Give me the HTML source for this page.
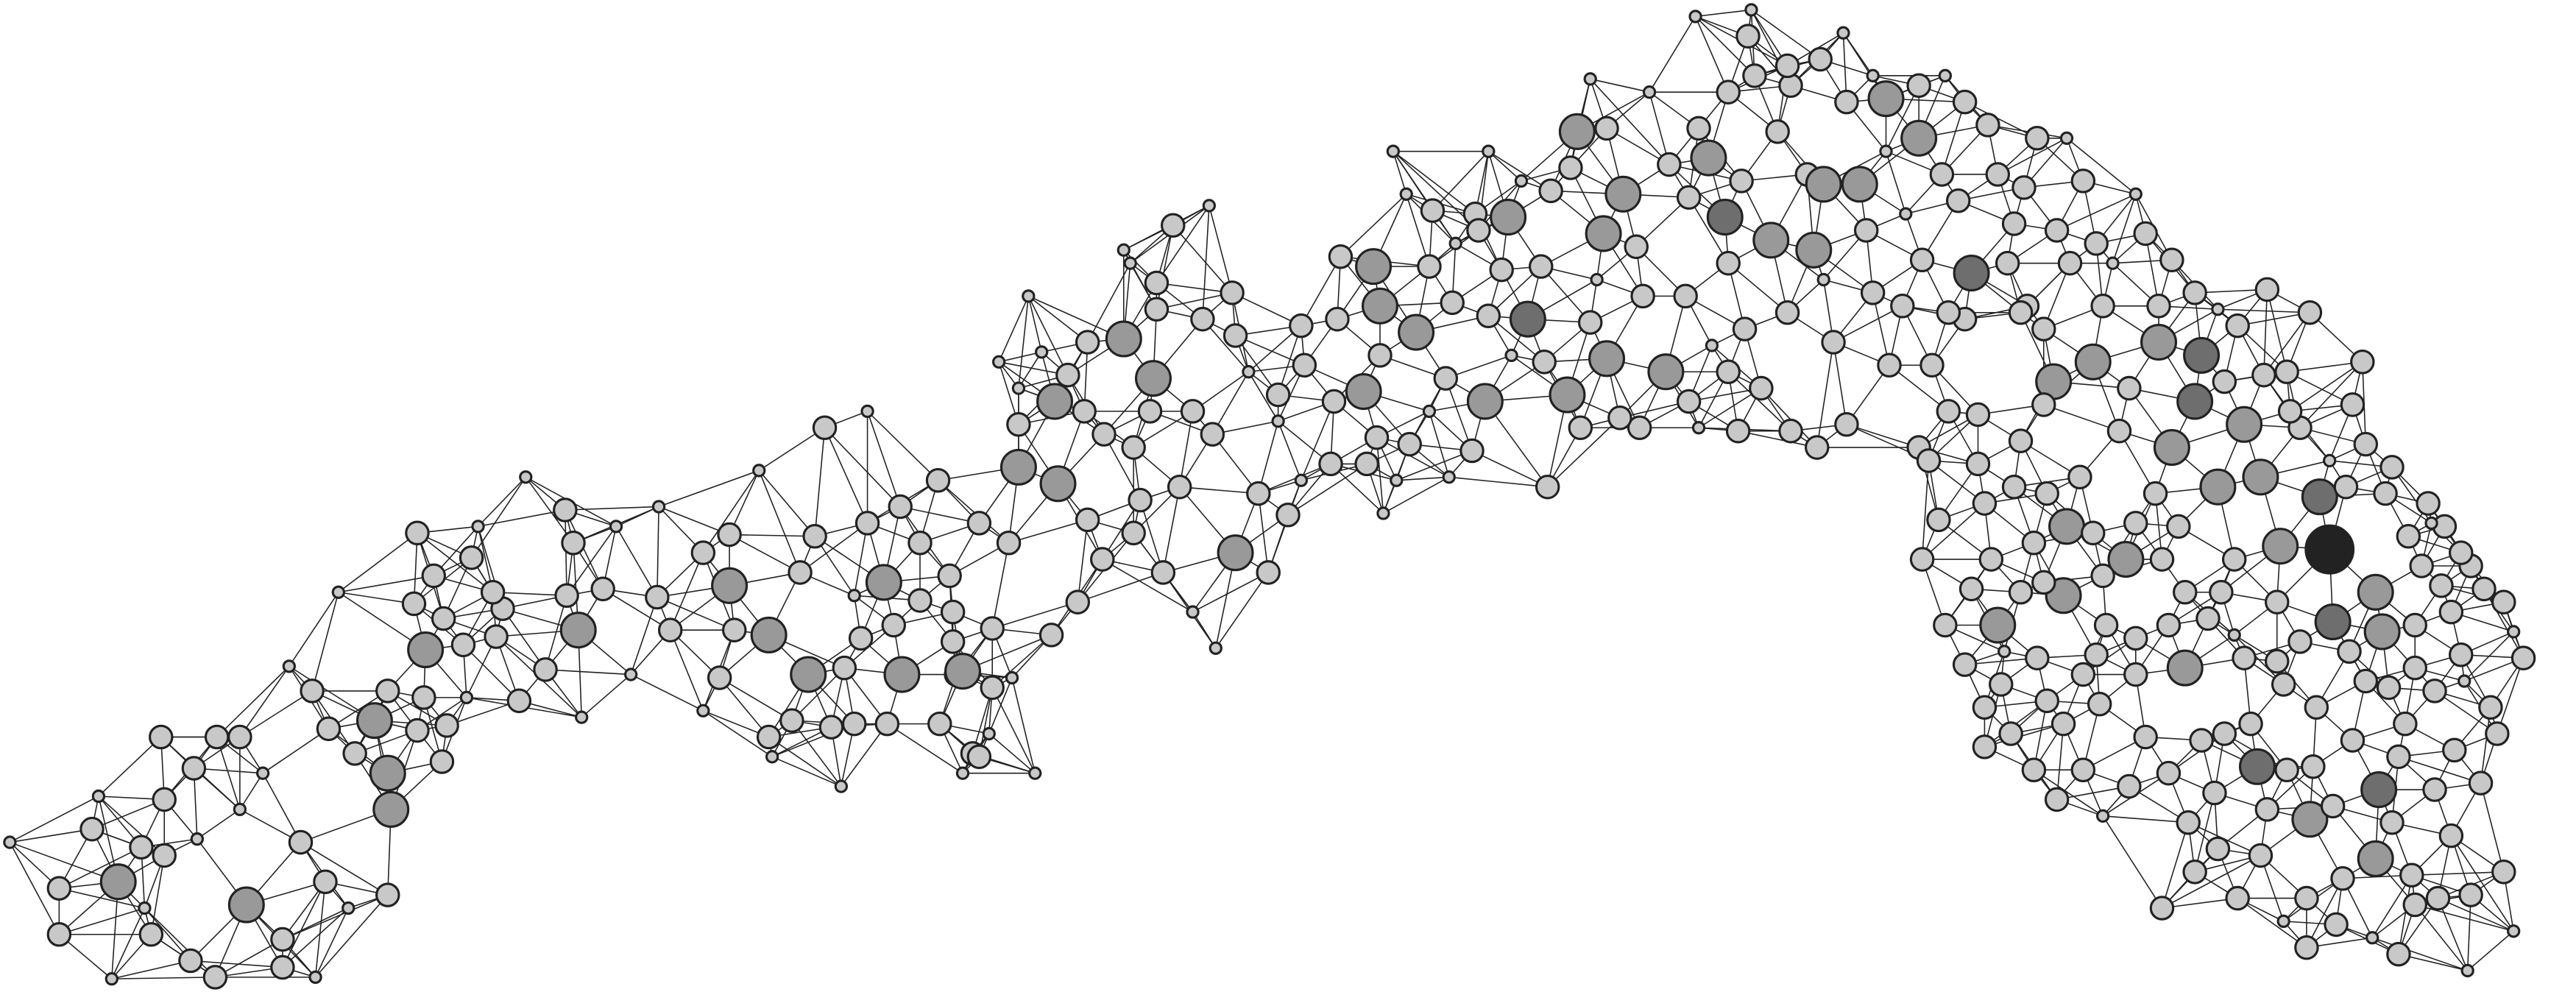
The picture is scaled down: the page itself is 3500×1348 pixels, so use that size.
<!DOCTYPE html>
<html><head><meta charset="utf-8">
<style>
html,body{margin:0;padding:0;background:#fff;}
svg{display:block;}
</style></head>
<body>
<svg id="chart" width="3500" height="1348" viewBox="0 0 1568 603" preserveAspectRatio="none" xmlns="http://www.w3.org/2000/svg">
<rect width="1568" height="603" fill="#fff"/>
<g id="edges"></g>
<g id="nodes"></g>
</svg>
<script>
// node data: [x, y, sizeClass, shadeClass] in reference thumbnail units
const nodes = [
[6,512,0],[36,540,1],[56,504,1],[72,536,2,1],[60,484,0],[36,568,1],[68,595,0],[92,568,1],[88,552,0],[100,520,1],[100,486,1],[98,448,1],[118,467,1],[132,448,1],[146,448,1],[146,492,0],[116,584,1],[131,594,1],[150,550,2,1],[172,571,1],[183,512,1],[198,536,1],[172,588,1],[192,594,0],[212,552,0],[236,544,1],[238,492,2,1],[236,470,2,1],[228,438,2,1],[200,443,1],[216,458,1],[254,444,1],[269,463,1],[272,441,1],[258,424,1],[259,395,2,1],[252,367,1],[270,376,1],[254,324,1],[287,339,1],[291,320,0],[302,387,1],[306,370,1],[316,426,1],[332,407,1],[349,330,1],[344,310,1],[345,362,1],[352,383,2,1],[367,358,1],[375,320,0],[401,308,0],[400,363,1],[408,383,1],[428,336,1],[444,325,1],[444,356,2,1],[468,386,2,1],[447,383,1],[438,412,1],[462,286,0],[487,348,1],[496,326,1],[492,410,2,1],[482,438,1],[468,448,1],[506,442,1],[514,406,1],[524,388,1],[538,354,2,1],[548,308,1],[528,318,1],[549,410,2,1],[540,440,1],[571,292,1],[582,410,1],[586,408,2,1],[580,390,1],[580,372,1],[578,350,1],[596,318,1],[614,330,1],[604,382,1],[572,440,1],[592,458,1],[602,446,0],[616,412,0],[640,386,1],[656,366,1],[620,284,2,1],[620,258,1],[644,294,2,1],[642,244,2,1],[662,208,1],[626,180,0],[684,206,2,1],[702,230,2,1],[714,137,1],[736,125,0],[732,194,1],[750,178,1],[704,188,1],[704,172,1],[672,264,1],[690,272,1],[662,316,1],[694,304,1],[690,324,1],[671,340,1],[708,348,1],[718,296,1],[726,250,1],[738,264,1],[752,336,2,1],[772,348,1],[726,372,0],[740,394,0],[784,313,1],[778,240,1],[794,222,1],[792,198,1],[778,256,0],[792,292,0],[812,244,1],[830,238,2,1],[838,266,1],[814,194,1],[840,186,2,1],[836,162,2,1],[840,216,1],[862,202,2,1],[816,156,1],[848,92,0],[856,118,0],[870,162,1],[884,184,1],[904,244,2,1],[914,164,1],[918,132,2,1],[930,194,2,2],[906,192,1],[938,162,1],[954,240,2,1],[962,260,1],[968,196,1],[978,218,2,1],[960,80,2,1],[978,78,1],[988,118,2,1],[976,142,2,1],[996,150,1],[1000,180,1],[1014,226,2,1],[1026,180,1],[1028,120,1],[1034,78,1],[1040,96,2,1],[1050,132,2,2],[1052,160,1],[1052,226,1],[1058,262,1],[1064,22,1],[1078,146,2,1],[1082,80,1],[1088,190,1],[1100,106,1],[1104,152,2,1],[1110,112,2,1],[1122,20,0],[1124,62,1],[1132,112,2,1],[1136,140,1],[1148,60,2,1],[1168,84,2,1],[1168,52,1],[1182,106,1],[1200,166,2,2],[1210,76,1],[1222,160,1],[1226,136,1],[1234,186,1],[1232,114,1],[1244,200,1],[1250,232,2,1],[1274,220,2,1],[1280,186,1],[1296,236,1],[1300,118,0],[1314,186,1],[1314,208,2,1],[1336,178,1],[1340,216,2,2],[1336,244,2,2],[1366,258,2,1],[1322,272,2,1],[1290,262,1],[1258,320,2,1],[1294,340,2,1],[1350,296,2,1],[1376,290,2,1],[1412,302,2,2],[1418,334,3,3],[1388,332,2,1],[1360,340,1],[1420,378,2,2],[1446,360,2,1],[1450,384,2,1],[1470,406,1],[1504,344,1],[1524,366,1],[1536,400,1],[1516,430,1],[1482,480,1],[1448,480,2,2],[1374,466,2,2],[1380,492,1],[1406,498,2,1],[1446,522,2,1],[1468,532,1],[1484,546,1],[1504,544,1],[1524,530,1],[1426,534,1],[1470,550,1],[1350,516,1],[1332,500,1],[1316,552,1],[1362,546,1],[1404,546,1],[1422,562,1],[1502,590,0],[1330,406,2,1],[1300,410,1],[1282,380,1],[1256,362,2,1],[1216,380,2,1],[1200,358,1],[1184,380,1],[1218,416,1],[1246,426,1],[1256,440,1],[1278,428,1],[1306,448,1],[1340,450,1],[1370,440,1],[1390,416,1],[1410,430,1],[1440,414,1],[1366,400,1],[1386,402,1],[1312,300,1],[1244,246,1],[1230,268,1],[1208,306,1],[1196,194,1],[1176,222,1],[1186,250,1],[1168,272,1],[1124,258,1],[1106,272,1],[1090,262,1],[1116,208,1],[1140,178,1],[1150,222,1],[998,260,1],[942,296,1],[896,274,1],[882,290,0],[850,292,0],[832,282,1],[810,282,1],[842,312,0],[1186,190,1],[1230,190,1],[1260,160,1],[1258,84,0],[1268,110,1],[1252,140,1],[1216,106,1],[1276,148,1],[1362,198,1],[1380,176,1],[1406,190,1],[1438,220,1],[1432,246,1],[1400,260,1],[1392,226,1],[1378,228,1],[1306,142,1],[1440,270,1],[1456,284,1],[1478,306,1],[1488,320,1],[1466,326,1],[1474,344,1],[1492,372,1],[1470,380,1],[1498,398,1],[1464,440,1],[1432,450,1],[1408,466,1],[1344,376,1],[1320,380,1],[1300,388,1],[1276,398,1],[1268,468,1],[1238,468,1],[1224,446,1],[1208,430,1],[1174,280,1],[1204,282,1],[1226,296,1],[1238,330,1],[1212,340,1],[1180,316,1],[1170,340,1],[1204,252,1],[1266,290,1],[1246,300,1],
[1032,10,0],[1066,6,0],[1004,56,0],[968,48,0],[1052,56,1],[1090,52,1],[1108,36,1],[1140,46,0],[1184,46,0],[1196,62,1],[1240,84,1],[1088,40,1],[1016,100,1],[956,102,1],[944,116,1],[926,110,0],[906,92,0],[898,130,1],[886,148,0],[872,128,1],[1060,110,1],[1068,46,1],[1148,92,0],[1192,122,1],[1160,130,0],[1170,158,1],[1158,186,1],[1110,170,0],[1062,200,1],[1042,210,0],[1072,236,1],[1028,244,1],[1034,260,0],[986,254,1],[972,170,0],[940,220,1],[920,216,0],[880,230,1],[870,250,0],[858,270,1],[900,140,1],
[1286,160,0],[1322,158,1],[1350,188,0],[1354,232,1],[1394,250,1],[1418,280,0],[1428,296,1],[1452,300,1],[1480,318,0],[1498,336,1],[1486,356,1],[1512,358,1],[1530,384,0],[1500,414,0],[1482,420,1],[1454,418,1],[1430,396,1],[1400,390,1],[1352,360,1],[1360,386,0],[1330,360,1],[1316,340,1],[1280,350,1],[1268,410,1],[1240,400,1],[1230,360,1],[1220,396,0],[1196,404,1],[1208,454,1],[1252,486,1],[1280,496,0],[1296,478,1],[1320,470,1],[1348,482,1],[1392,468,1],[1420,490,1],[1456,500,1],[1492,508,1],[1510,476,1],[1520,446,1],[1494,456,1],[1460,460,1],[1376,520,1],[1390,560,0],[1444,570,0],[1460,580,1],[1530,566,0],[1404,576,1],[1336,530,1],[1354,446,1],[1386,366,1],[1326,320,1],[1300,318,1],[1274,324,1],[1244,354,1],
[688,160,0],[684,152,0],[752,204,1],[760,226,0],[766,300,1],[700,250,1],[650,228,1],[660,250,1],[634,214,0],[608,220,0],[620,236,0],[560,330,1],[560,365,1],[544,380,1],[520,362,0],[528,250,0],[502,260,1],[520,440,1],[586,470,0],[596,460,1],[630,470,0],[604,418,1],[512,478,0],[470,460,0],[428,432,0],[384,410,0],[354,436,0],
[86,515,1],[120,510,0],[176,405,0],[160,470,0],[206,360,0],[190,420,1],[282,392,1],[284,424,0],[236,420,1],[264,350,1],[300,360,1],[320,290,0]
];
const sizeRadius = [3.4, 6.8, 10.5, 14.5];
const shadeFill = ['#c8c8c8', '#999999', '#6e6e6e', '#222222'];
const neighbourCount = 6;
const maxEdgeLength = 72;

const NS = 'http://www.w3.org/2000/svg';
const gE = document.getElementById('edges');
const gN = document.getElementById('nodes');
const seen = new Set();
nodes.forEach((a, i) => {
  const d = nodes.map((b, j) => [j, Math.hypot(a[0]-b[0], a[1]-b[1])]).filter(p => p[0] !== i && p[1] < maxEdgeLength).sort((p, q) => p[1]-q[1]).slice(0, neighbourCount);
  d.forEach(([j]) => {
    const key = i < j ? i + '-' + j : j + '-' + i;
    if (seen.has(key)) return;
    seen.add(key);
    const b = nodes[j];
    const l = document.createElementNS(NS, 'line');
    l.setAttribute('x1', a[0]); l.setAttribute('y1', a[1]);
    l.setAttribute('x2', b[0]); l.setAttribute('y2', b[1]);
    l.setAttribute('stroke', '#222'); l.setAttribute('stroke-width', '0.7');
    
    
    gE.appendChild(l);
  });
});
nodes.forEach(n => {
  const c = document.createElementNS(NS, 'circle');
  c.setAttribute('cx', n[0]); c.setAttribute('cy', n[1]);
  c.setAttribute('r', sizeRadius[n[2]]);
  c.setAttribute('fill', shadeFill[n[3] || 0]);
  c.setAttribute('stroke', '#222'); c.setAttribute('stroke-width', '1.4');
  
  
  gN.appendChild(c);
});
</script>
</body></html>
